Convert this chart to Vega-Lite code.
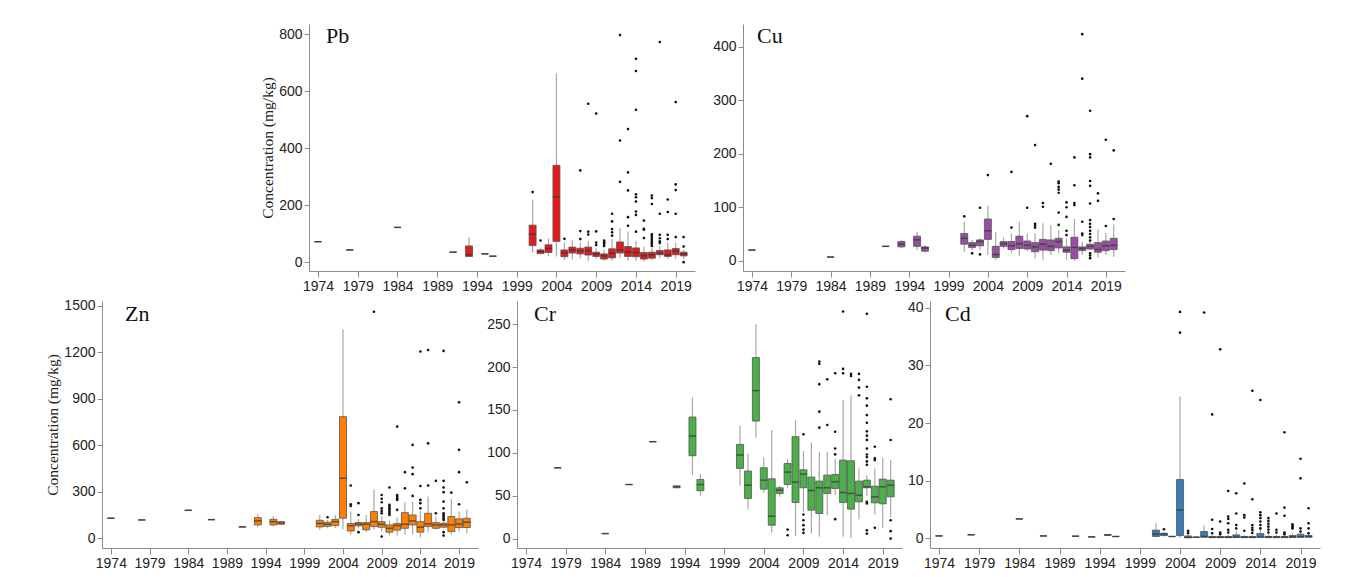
{
"$schema": "https://vega.github.io/schema/vega-lite/v6.json",
"padding": {"left": 45, "top": 24, "right": 5, "bottom": 5},
"background": "white",
"datasets": {
"pb": [
{"yr":1974,"lo":72,"q1":72,"md":72,"q3":72,"hi":72},
{"yr":1978,"lo":43,"q1":43,"md":43,"q3":43,"hi":43},
{"yr":1984,"lo":122,"q1":122,"md":122,"q3":122,"hi":122},
{"yr":1991,"lo":35,"q1":35,"md":35,"q3":35,"hi":35},
{"yr":1993,"lo":18,"q1":20,"md":26,"q3":57,"hi":88},
{"yr":1995,"lo":29,"q1":29,"md":29,"q3":29,"hi":29},
{"yr":1996,"lo":21,"q1":21,"md":21,"q3":21,"hi":21},
{"yr":2001,"lo":34,"q1":58,"md":98,"q3":130,"hi":219},
{"yr":2002,"lo":28,"q1":30,"md":37,"q3":43,"hi":50},
{"yr":2003,"lo":22,"q1":34,"md":48,"q3":61,"hi":84},
{"yr":2004,"lo":20,"q1":73,"md":229,"q3":340,"hi":662},
{"yr":2005,"lo":8,"q1":19,"md":32,"q3":43,"hi":69},
{"yr":2006,"lo":10,"q1":32,"md":43,"q3":53,"hi":78},
{"yr":2007,"lo":14,"q1":29,"md":40,"q3":49,"hi":67},
{"yr":2008,"lo":5,"q1":25,"md":41,"q3":53,"hi":73},
{"yr":2009,"lo":11,"q1":20,"md":29,"q3":35,"hi":49},
{"yr":2010,"lo":5,"q1":11,"md":22,"q3":29,"hi":43},
{"yr":2011,"lo":5,"q1":15,"md":32,"q3":47,"hi":81},
{"yr":2012,"lo":14,"q1":32,"md":43,"q3":71,"hi":121},
{"yr":2013,"lo":5,"q1":20,"md":35,"q3":55,"hi":108},
{"yr":2014,"lo":5,"q1":19,"md":34,"q3":50,"hi":75},
{"yr":2015,"lo":2,"q1":11,"md":23,"q3":34,"hi":55},
{"yr":2016,"lo":8,"q1":14,"md":26,"q3":35,"hi":49},
{"yr":2017,"lo":14,"q1":26,"md":32,"q3":41,"hi":57},
{"yr":2018,"lo":11,"q1":20,"md":26,"q3":43,"hi":67},
{"yr":2019,"lo":11,"q1":26,"md":39,"q3":48,"hi":67},
{"yr":2020,"lo":11,"q1":22,"md":29,"q3":35,"hi":43}
],
"pb_o": [
{"yr":2001,"v":246},{"yr":2002,"v":76},{"yr":2005,"v":82},
{"yr":2007,"v":322},{"yr":2007,"v":109},{"yr":2007,"v":81},
{"yr":2008,"v":556},{"yr":2008,"v":107},{"yr":2008,"v":97},
{"yr":2009,"v":522},{"yr":2009,"v":108},{"yr":2009,"v":69},{"yr":2009,"v":60},
{"yr":2010,"v":76},{"yr":2010,"v":70},{"yr":2010,"v":64},{"yr":2010,"v":57},
{"yr":2011,"v":170},{"yr":2011,"v":143},{"yr":2011,"v":116},{"yr":2011,"v":105},{"yr":2011,"v":93},
{"yr":2012,"v":797},{"yr":2012,"v":427},{"yr":2012,"v":282},
{"yr":2013,"v":467},{"yr":2013,"v":315},{"yr":2013,"v":252},{"yr":2013,"v":158},{"yr":2013,"v":128},
{"yr":2014,"v":714},{"yr":2014,"v":671},{"yr":2014,"v":535},{"yr":2014,"v":238},{"yr":2014,"v":228},{"yr":2014,"v":213},{"yr":2014,"v":178},{"yr":2014,"v":166},{"yr":2014,"v":107},
{"yr":2015,"v":146},{"yr":2015,"v":117},{"yr":2015,"v":114},{"yr":2015,"v":85},
{"yr":2016,"v":234},{"yr":2016,"v":225},{"yr":2016,"v":204},{"yr":2016,"v":98},{"yr":2016,"v":92},{"yr":2016,"v":85},{"yr":2016,"v":78},{"yr":2016,"v":71},{"yr":2016,"v":64},{"yr":2016,"v":57},
{"yr":2017,"v":773},{"yr":2017,"v":170},{"yr":2017,"v":96},{"yr":2017,"v":84},{"yr":2017,"v":73},{"yr":2017,"v":67},
{"yr":2018,"v":220},{"yr":2018,"v":176},{"yr":2018,"v":96},{"yr":2018,"v":81},
{"yr":2019,"v":562},{"yr":2019,"v":273},{"yr":2019,"v":253},{"yr":2019,"v":170},{"yr":2019,"v":88},
{"yr":2020,"v":88},{"yr":2020,"v":55},{"yr":2020,"v":0}
],
"cu": [
{"yr":1974,"lo":20,"q1":20,"md":20,"q3":20,"hi":20},
{"yr":1984,"lo":7,"q1":7,"md":7,"q3":7,"hi":7},
{"yr":1991,"lo":27,"q1":27,"md":27,"q3":27,"hi":27},
{"yr":1993,"lo":24,"q1":26,"md":31,"q3":36,"hi":39},
{"yr":1995,"lo":20,"q1":27,"md":39,"q3":46,"hi":54},
{"yr":1996,"lo":15,"q1":18,"md":24,"q3":26,"hi":29},
{"yr":2001,"lo":17,"q1":31,"md":42,"q3":51,"hi":73},
{"yr":2002,"lo":20,"q1":25,"md":29,"q3":34,"hi":39},
{"yr":2003,"lo":20,"q1":28,"md":36,"q3":39,"hi":42},
{"yr":2004,"lo":11,"q1":40,"md":56,"q3":78,"hi":103},
{"yr":2005,"lo":2,"q1":6,"md":12,"q3":27,"hi":54},
{"yr":2006,"lo":23,"q1":27,"md":32,"q3":36,"hi":44},
{"yr":2007,"lo":14,"q1":21,"md":28,"q3":36,"hi":51},
{"yr":2008,"lo":9,"q1":23,"md":32,"q3":46,"hi":73},
{"yr":2009,"lo":18,"q1":22,"md":29,"q3":37,"hi":51},
{"yr":2010,"lo":4,"q1":17,"md":26,"q3":34,"hi":51},
{"yr":2011,"lo":2,"q1":20,"md":31,"q3":40,"hi":70},
{"yr":2012,"lo":11,"q1":19,"md":27,"q3":39,"hi":67},
{"yr":2013,"lo":14,"q1":24,"md":36,"q3":42,"hi":57},
{"yr":2014,"lo":2,"q1":16,"md":20,"q3":26,"hi":42},
{"yr":2015,"lo":0,"q1":4,"md":25,"q3":44,"hi":78},
{"yr":2016,"lo":11,"q1":19,"md":23,"q3":26,"hi":36},
{"yr":2017,"lo":20,"q1":22,"md":27,"q3":31,"hi":42},
{"yr":2018,"lo":6,"q1":16,"md":21,"q3":34,"hi":59},
{"yr":2019,"lo":11,"q1":19,"md":28,"q3":37,"hi":52},
{"yr":2020,"lo":7,"q1":21,"md":29,"q3":42,"hi":68}
],
"cu_o": [
{"yr":2001,"v":83},{"yr":2002,"v":14},{"yr":2003,"v":99},{"yr":2003,"v":12},{"yr":2004,"v":160},
{"yr":2007,"v":166},{"yr":2007,"v":62},
{"yr":2009,"v":270},{"yr":2009,"v":99},
{"yr":2010,"v":216},{"yr":2010,"v":69},{"yr":2010,"v":66},{"yr":2010,"v":62},
{"yr":2011,"v":108},{"yr":2011,"v":101},
{"yr":2012,"v":181},
{"yr":2013,"v":148},{"yr":2013,"v":145},{"yr":2013,"v":138},{"yr":2013,"v":133},{"yr":2013,"v":127},{"yr":2013,"v":90},{"yr":2013,"v":67},
{"yr":2014,"v":109},{"yr":2014,"v":100},{"yr":2014,"v":82},{"yr":2014,"v":56},{"yr":2014,"v":48},
{"yr":2015,"v":193},{"yr":2015,"v":141},{"yr":2015,"v":108},{"yr":2015,"v":104},
{"yr":2016,"v":423},{"yr":2016,"v":340},{"yr":2016,"v":73},{"yr":2016,"v":51},{"yr":2016,"v":48},
{"yr":2017,"v":280},{"yr":2017,"v":199},{"yr":2017,"v":193},{"yr":2017,"v":149},{"yr":2017,"v":140},{"yr":2017,"v":107},{"yr":2017,"v":76},{"yr":2017,"v":69},{"yr":2017,"v":63},{"yr":2017,"v":56},{"yr":2017,"v":50},{"yr":2017,"v":44},{"yr":2017,"v":38},{"yr":2017,"v":14},{"yr":2017,"v":10},{"yr":2017,"v":5},
{"yr":2018,"v":126},{"yr":2018,"v":112},
{"yr":2019,"v":226},{"yr":2019,"v":65},
{"yr":2020,"v":206},{"yr":2020,"v":78}
],
"zn": [
{"yr":1974,"lo":129,"q1":129,"md":129,"q3":129,"hi":129},
{"yr":1978,"lo":118,"q1":118,"md":118,"q3":118,"hi":118},
{"yr":1984,"lo":180,"q1":180,"md":180,"q3":180,"hi":180},
{"yr":1987,"lo":120,"q1":120,"md":120,"q3":120,"hi":120},
{"yr":1991,"lo":73,"q1":73,"md":73,"q3":73,"hi":73},
{"yr":1993,"lo":71,"q1":86,"md":112,"q3":133,"hi":157},
{"yr":1995,"lo":75,"q1":86,"md":107,"q3":122,"hi":140},
{"yr":1996,"lo":88,"q1":90,"md":99,"q3":107,"hi":110},
{"yr":2001,"lo":54,"q1":73,"md":95,"q3":116,"hi":150},
{"yr":2002,"lo":64,"q1":77,"md":90,"q3":103,"hi":118},
{"yr":2003,"lo":64,"q1":82,"md":107,"q3":122,"hi":150},
{"yr":2004,"lo":58,"q1":129,"md":387,"q3":784,"hi":1348},
{"yr":2005,"lo":26,"q1":47,"md":80,"q3":95,"hi":172},
{"yr":2006,"lo":64,"q1":80,"md":92,"q3":101,"hi":125},
{"yr":2007,"lo":39,"q1":54,"md":90,"q3":101,"hi":150},
{"yr":2008,"lo":54,"q1":75,"md":107,"q3":172,"hi":316},
{"yr":2009,"lo":43,"q1":71,"md":90,"q3":107,"hi":140},
{"yr":2010,"lo":17,"q1":39,"md":64,"q3":86,"hi":112},
{"yr":2011,"lo":17,"q1":52,"md":82,"q3":95,"hi":133},
{"yr":2012,"lo":21,"q1":64,"md":90,"q3":165,"hi":232},
{"yr":2013,"lo":26,"q1":86,"md":112,"q3":150,"hi":236},
{"yr":2014,"lo":4,"q1":39,"md":71,"q3":107,"hi":176},
{"yr":2015,"lo":39,"q1":75,"md":92,"q3":161,"hi":269},
{"yr":2016,"lo":54,"q1":64,"md":86,"q3":101,"hi":140},
{"yr":2017,"lo":64,"q1":71,"md":86,"q3":97,"hi":107},
{"yr":2018,"lo":26,"q1":43,"md":86,"q3":140,"hi":254},
{"yr":2019,"lo":43,"q1":69,"md":92,"q3":125,"hi":172},
{"yr":2020,"lo":32,"q1":69,"md":103,"q3":129,"hi":187}
],
"zn_o": [
{"yr":2002,"v":135},
{"yr":2005,"v":340},{"yr":2005,"v":219},{"yr":2005,"v":208},
{"yr":2006,"v":226},{"yr":2006,"v":150},{"yr":2006,"v":39},
{"yr":2008,"v":1461},
{"yr":2009,"v":279},{"yr":2009,"v":254},{"yr":2009,"v":232},{"yr":2009,"v":193},{"yr":2009,"v":176},{"yr":2009,"v":161},{"yr":2009,"v":11},
{"yr":2010,"v":327},{"yr":2010,"v":215},{"yr":2010,"v":204},{"yr":2010,"v":193},{"yr":2010,"v":183},{"yr":2010,"v":172},{"yr":2010,"v":161},{"yr":2010,"v":150},
{"yr":2011,"v":720},{"yr":2011,"v":279},{"yr":2011,"v":268},{"yr":2011,"v":257},{"yr":2011,"v":247},{"yr":2011,"v":183},
{"yr":2012,"v":426},{"yr":2012,"v":322},
{"yr":2013,"v":602},{"yr":2013,"v":456},{"yr":2013,"v":413},{"yr":2013,"v":273},
{"yr":2014,"v":1204},{"yr":2014,"v":337},{"yr":2014,"v":247},{"yr":2014,"v":226},{"yr":2014,"v":193},
{"yr":2015,"v":1214},{"yr":2015,"v":612},{"yr":2015,"v":340},
{"yr":2016,"v":370},{"yr":2016,"v":161},
{"yr":2017,"v":1208},{"yr":2017,"v":370},{"yr":2017,"v":327},{"yr":2017,"v":297},{"yr":2017,"v":236},{"yr":2017,"v":193},{"yr":2017,"v":161},{"yr":2017,"v":150},{"yr":2017,"v":140},{"yr":2017,"v":129},{"yr":2017,"v":118},{"yr":2017,"v":39},{"yr":2017,"v":17},
{"yr":2018,"v":294},
{"yr":2019,"v":877},{"yr":2019,"v":570},{"yr":2019,"v":426},{"yr":2019,"v":219},
{"yr":2020,"v":361}
],
"cr": [
{"yr":1978,"lo":82.5,"q1":82.5,"md":82.5,"q3":82.5,"hi":82.5},
{"yr":1984,"lo":5.8,"q1":5.8,"md":5.8,"q3":5.8,"hi":5.8},
{"yr":1987,"lo":63,"q1":63,"md":63,"q3":63,"hi":63},
{"yr":1990,"lo":113,"q1":113,"md":113,"q3":113,"hi":113},
{"yr":1993,"lo":59,"q1":59.2,"md":60.4,"q3":61.5,"hi":62},
{"yr":1995,"lo":74,"q1":96.6,"md":119.5,"q3":141.7,"hi":164.7},
{"yr":1996,"lo":50.6,"q1":55.7,"md":63,"q3":68.9,"hi":74.8},
{"yr":2001,"lo":61.5,"q1":81.8,"md":97.4,"q3":109.8,"hi":131.6},
{"yr":2002,"lo":34.3,"q1":46.7,"md":62.3,"q3":78.7,"hi":98.9},
{"yr":2003,"lo":117.6,"q1":137,"md":172.5,"q3":211,"hi":250},
{"yr":2004,"lo":53.3,"q1":57.6,"md":68.1,"q3":82.6,"hi":94.6},
{"yr":2005,"lo":7,"q1":15.6,"md":26.1,"q3":69.7,"hi":126.6},
{"yr":2006,"lo":48.7,"q1":52.6,"md":56.5,"q3":59.2,"hi":61.5},
{"yr":2007,"lo":59.2,"q1":63.1,"md":77.5,"q3":87.6,"hi":92.7},
{"yr":2008,"lo":3.1,"q1":42,"md":65.8,"q3":118.8,"hi":137.9},
{"yr":2009,"lo":31.2,"q1":59.2,"md":75.2,"q3":80.2,"hi":102},
{"yr":2010,"lo":5.8,"q1":33.1,"md":56.1,"q3":71.7,"hi":112},
{"yr":2011,"lo":2,"q1":29.2,"md":59.2,"q3":67,"hi":101},
{"yr":2012,"lo":27.3,"q1":52.6,"md":59.2,"q3":74,"hi":101},
{"yr":2013,"lo":50.6,"q1":58.4,"md":66.2,"q3":74.8,"hi":93.5},
{"yr":2014,"lo":2,"q1":42,"md":53.7,"q3":91.5,"hi":161.6},
{"yr":2015,"lo":0.8,"q1":34.3,"md":52.6,"q3":90.7,"hi":166.7},
{"yr":2016,"lo":22.6,"q1":42.8,"md":50.6,"q3":67,"hi":81.8},
{"yr":2017,"lo":49.5,"q1":59.2,"md":60.4,"q3":68.1,"hi":74},
{"yr":2018,"lo":28.4,"q1":41.7,"md":48.7,"q3":61.1,"hi":81.8},
{"yr":2019,"lo":12.5,"q1":40.5,"md":60.4,"q3":69.3,"hi":94.2},
{"yr":2020,"lo":25.3,"q1":48.7,"md":62.3,"q3":68.1,"hi":91.5}
],
"cr_o": [
{"yr":2007,"v":10.5},{"yr":2007,"v":3.9},
{"yr":2009,"v":121.5},{"yr":2009,"v":28},{"yr":2009,"v":21.4},{"yr":2009,"v":15.6},{"yr":2009,"v":10.5},{"yr":2009,"v":6.6},
{"yr":2011,"v":206.4},{"yr":2011,"v":203.7},{"yr":2011,"v":180},{"yr":2011,"v":148},{"yr":2011,"v":129.3},
{"yr":2012,"v":185.7},{"yr":2012,"v":132.4},
{"yr":2013,"v":192.8},{"yr":2013,"v":124.6},{"yr":2013,"v":105},{"yr":2013,"v":98.1},{"yr":2013,"v":22.6},
{"yr":2014,"v":264.8},{"yr":2014,"v":197.8},{"yr":2014,"v":192.8},
{"yr":2015,"v":192},{"yr":2015,"v":189.6},
{"yr":2016,"v":192},{"yr":2016,"v":185},{"yr":2016,"v":176},{"yr":2016,"v":167},
{"yr":2017,"v":262},{"yr":2017,"v":177},{"yr":2017,"v":163.5},{"yr":2017,"v":155},{"yr":2017,"v":144},{"yr":2017,"v":135},{"yr":2017,"v":125},{"yr":2017,"v":120},{"yr":2017,"v":115},{"yr":2017,"v":105},{"yr":2017,"v":98},{"yr":2017,"v":95},{"yr":2017,"v":90},{"yr":2017,"v":86},{"yr":2017,"v":42.8},{"yr":2017,"v":41},{"yr":2017,"v":9.7},{"yr":2017,"v":5.8},
{"yr":2018,"v":107},{"yr":2018,"v":93.5},{"yr":2018,"v":91.5},{"yr":2018,"v":12.5},
{"yr":2020,"v":162.4},{"yr":2020,"v":114.9},{"yr":2020,"v":21.4},{"yr":2020,"v":8.6},{"yr":2020,"v":0}
],
"cd": [
{"yr":1974,"lo":0.4,"q1":0.4,"md":0.4,"q3":0.4,"hi":0.4},
{"yr":1978,"lo":0.6,"q1":0.6,"md":0.6,"q3":0.6,"hi":0.6},
{"yr":1984,"lo":3.35,"q1":3.35,"md":3.35,"q3":3.35,"hi":3.35},
{"yr":1987,"lo":0.4,"q1":0.4,"md":0.4,"q3":0.4,"hi":0.4},
{"yr":1991,"lo":0.35,"q1":0.35,"md":0.35,"q3":0.35,"hi":0.35},
{"yr":1993,"lo":0.23,"q1":0.23,"md":0.23,"q3":0.23,"hi":0.23},
{"yr":1995,"lo":0.45,"q1":0.5,"md":0.58,"q3":0.62,"hi":0.65},
{"yr":1996,"lo":0.3,"q1":0.3,"md":0.3,"q3":0.3,"hi":0.3},
{"yr":2001,"lo":0.3,"q1":0.3,"md":0.7,"q3":1.4,"hi":2.6},
{"yr":2002,"lo":0.3,"q1":0.46,"md":0.7,"q3":0.87,"hi":1.0},
{"yr":2003,"lo":0.3,"q1":0.3,"md":0.3,"q3":0.3,"hi":0.3},
{"yr":2004,"lo":0.1,"q1":0.46,"md":4.9,"q3":10.2,"hi":24.6},
{"yr":2005,"lo":0.06,"q1":0.06,"md":0.17,"q3":0.4,"hi":0.6},
{"yr":2006,"lo":0.17,"q1":0.17,"md":0.17,"q3":0.17,"hi":0.17},
{"yr":2007,"lo":0.17,"q1":0.17,"md":0.3,"q3":1.16,"hi":2.2},
{"yr":2008,"lo":0.1,"q1":0.1,"md":0.17,"q3":0.3,"hi":0.5},
{"yr":2009,"lo":0.1,"q1":0.1,"md":0.17,"q3":0.3,"hi":0.5},
{"yr":2010,"lo":0.1,"q1":0.1,"md":0.17,"q3":0.3,"hi":0.6},
{"yr":2011,"lo":0.12,"q1":0.12,"md":0.2,"q3":0.58,"hi":1.2},
{"yr":2012,"lo":0.1,"q1":0.1,"md":0.17,"q3":0.3,"hi":0.5},
{"yr":2013,"lo":0.1,"q1":0.1,"md":0.17,"q3":0.3,"hi":0.5},
{"yr":2014,"lo":0.17,"q1":0.17,"md":0.2,"q3":0.81,"hi":1.6},
{"yr":2015,"lo":0.1,"q1":0.1,"md":0.2,"q3":0.3,"hi":0.6},
{"yr":2016,"lo":0.1,"q1":0.1,"md":0.2,"q3":0.3,"hi":0.6},
{"yr":2017,"lo":0.1,"q1":0.1,"md":0.2,"q3":0.3,"hi":0.6},
{"yr":2018,"lo":0.12,"q1":0.12,"md":0.25,"q3":0.46,"hi":0.9},
{"yr":2019,"lo":0.17,"q1":0.17,"md":0.25,"q3":0.7,"hi":1.2},
{"yr":2020,"lo":0.17,"q1":0.17,"md":0.3,"q3":0.46,"hi":0.8}
],
"cd_o": [
{"yr":2002,"v":1.56},
{"yr":2004,"v":39.3},{"yr":2004,"v":35.7},
{"yr":2005,"v":1.27},{"yr":2005,"v":0.87},
{"yr":2007,"v":39.2},
{"yr":2008,"v":21.5},{"yr":2008,"v":3.2},{"yr":2008,"v":1.6},{"yr":2008,"v":0.87},
{"yr":2009,"v":32.8},{"yr":2009,"v":2.9},{"yr":2009,"v":1.0},{"yr":2009,"v":0.7},
{"yr":2010,"v":8.2},{"yr":2010,"v":3.76},{"yr":2010,"v":3.35},{"yr":2010,"v":2.6},{"yr":2010,"v":1.45},{"yr":2010,"v":1.0},
{"yr":2011,"v":7.8},{"yr":2011,"v":4.3},{"yr":2011,"v":2.3},{"yr":2011,"v":1.7},
{"yr":2012,"v":9.5},{"yr":2012,"v":4.0},{"yr":2012,"v":3.6},{"yr":2012,"v":1.3},
{"yr":2013,"v":25.6},{"yr":2013,"v":6.76},{"yr":2013,"v":2.3},{"yr":2013,"v":1.8},{"yr":2013,"v":1.4},{"yr":2013,"v":0.9},
{"yr":2014,"v":24},{"yr":2014,"v":4.5},{"yr":2014,"v":4.0},{"yr":2014,"v":3.5},{"yr":2014,"v":2.9},{"yr":2014,"v":2.3},{"yr":2014,"v":1.7},
{"yr":2015,"v":3.5},{"yr":2015,"v":3.0},{"yr":2015,"v":2.5},{"yr":2015,"v":2.0},{"yr":2015,"v":1.5},{"yr":2015,"v":1.0},
{"yr":2016,"v":4.3},{"yr":2016,"v":1.45},{"yr":2016,"v":1.0},
{"yr":2017,"v":18.4},{"yr":2017,"v":5.3},{"yr":2017,"v":3.9},{"yr":2017,"v":1.0},{"yr":2017,"v":0.7},
{"yr":2018,"v":2.4},{"yr":2018,"v":2.1},{"yr":2018,"v":1.9},{"yr":2018,"v":1.7},
{"yr":2019,"v":13.8},{"yr":2019,"v":10.4},{"yr":2019,"v":1.7},{"yr":2019,"v":1.16},
{"yr":2020,"v":5.2},{"yr":2020,"v":2.6},{"yr":2020,"v":1.7},{"yr":2020,"v":0.87}
]
},
"spacing": 5,
"vconcat": [
{
"bounds": "flush",
"spacing": 0,
"hconcat": [
{"width": 207, "height": 247, "data": {"values": [{"a": 1}]}, "mark": {"type": "point", "opacity": 0}, "encoding": {}},
{
"width": 386, "height": 247,
"encoding": {"x": {"field": "yr", "type": "quantitative", "scale": {"domain": [1973.5, 2020.8], "nice": false, "zero": false}, "axis": {"values": [1974,1979,1984,1989,1994,1999,2004,2009,2014,2019], "format": "d", "title": null}}},
"layer": [
{"data": {"name": "pb"}, "mark": {"type": "rule", "color": "#a8a8a8", "strokeWidth": 1.2}, "encoding": {"y": {"field": "lo", "type": "quantitative", "scale": {"domain": [-31, 836], "nice": false, "zero": false}, "axis": {"values": [0,200,400,600,800], "format": "d", "title": "Concentration (mg/kg)"}}, "y2": {"field": "hi"}}},
{"data": {"name": "pb"}, "mark": {"type": "bar", "orient": "vertical", "width": 7, "fill": "#E41A1C", "stroke": "#555555", "strokeWidth": 0.8}, "encoding": {"y": {"field": "q1", "type": "quantitative", "scale": {"domain": [-31, 836], "nice": false, "zero": false}, "axis": {"values": [0,200,400,600,800], "format": "d", "title": "Concentration (mg/kg)"}}, "y2": {"field": "q3"}}},
{"data": {"name": "pb"}, "mark": {"type": "tick", "orient": "horizontal", "size": 7, "thickness": 1.5, "color": "#333333"}, "encoding": {"y": {"field": "md", "type": "quantitative", "scale": {"domain": [-31, 836], "nice": false, "zero": false}, "axis": {"values": [0,200,400,600,800], "format": "d", "title": "Concentration (mg/kg)"}}}},
{"data": {"name": "pb_o"}, "mark": {"type": "point", "filled": true, "size": 7, "color": "#111111", "opacity": 1}, "encoding": {"y": {"field": "v", "type": "quantitative", "scale": {"domain": [-31, 836], "nice": false, "zero": false}, "axis": {"values": [0,200,400,600,800], "format": "d", "title": "Concentration (mg/kg)"}}}},
{"data": {"values": [{"t": "Pb", "yr": 1973.5, "v": 836}]}, "mark": {"type": "text", "align": "left", "baseline": "top", "dx": 12, "dy": 2, "font": "Liberation Serif", "fontSize": 22, "fill": "#111111"}, "encoding": {"text": {"field": "t", "type": "nominal"}, "y": {"field": "v", "type": "quantitative", "scale": {"domain": [-31, 836], "nice": false, "zero": false}, "axis": {"values": [0,200,400,600,800], "format": "d", "title": "Concentration (mg/kg)"}}}}
]
},
{"width": 48, "height": 247, "data": {"values": [{"a": 1}]}, "mark": {"type": "point", "opacity": 0}, "encoding": {}},
{
"width": 382, "height": 247,
"encoding": {"x": {"field": "yr", "type": "quantitative", "scale": {"domain": [1973.5, 2020.8], "nice": false, "zero": false}, "axis": {"values": [1974,1979,1984,1989,1994,1999,2004,2009,2014,2019], "format": "d", "title": null}}},
"layer": [
{"data": {"name": "cu"}, "mark": {"type": "rule", "color": "#a8a8a8", "strokeWidth": 1.2}, "encoding": {"y": {"field": "lo", "type": "quantitative", "scale": {"domain": [-19, 442], "nice": false, "zero": false}, "axis": {"values": [0,100,200,300,400], "format": "d", "title": null}}, "y2": {"field": "hi"}}},
{"data": {"name": "cu"}, "mark": {"type": "bar", "orient": "vertical", "width": 7, "fill": "#984EA3", "stroke": "#555555", "strokeWidth": 0.8}, "encoding": {"y": {"field": "q1", "type": "quantitative", "scale": {"domain": [-19, 442], "nice": false, "zero": false}, "axis": {"values": [0,100,200,300,400], "format": "d", "title": null}}, "y2": {"field": "q3"}}},
{"data": {"name": "cu"}, "mark": {"type": "tick", "orient": "horizontal", "size": 7, "thickness": 1.5, "color": "#333333"}, "encoding": {"y": {"field": "md", "type": "quantitative", "scale": {"domain": [-19, 442], "nice": false, "zero": false}, "axis": {"values": [0,100,200,300,400], "format": "d", "title": null}}}},
{"data": {"name": "cu_o"}, "mark": {"type": "point", "filled": true, "size": 7, "color": "#111111", "opacity": 1}, "encoding": {"y": {"field": "v", "type": "quantitative", "scale": {"domain": [-19, 442], "nice": false, "zero": false}, "axis": {"values": [0,100,200,300,400], "format": "d", "title": null}}}},
{"data": {"values": [{"t": "Cu", "yr": 1973.5, "v": 442}]}, "mark": {"type": "text", "align": "left", "baseline": "top", "dx": 9, "dy": 2, "font": "Liberation Serif", "fontSize": 22, "fill": "#111111"}, "encoding": {"text": {"field": "t", "type": "nominal"}, "y": {"field": "v", "type": "quantitative", "scale": {"domain": [-19, 442], "nice": false, "zero": false}, "axis": {"values": [0,100,200,300,400], "format": "d", "title": null}}}}
]
}
]
},
{
"bounds": "flush",
"spacing": 0,
"hconcat": [
{
"width": 376, "height": 247,
"encoding": {"x": {"field": "yr", "type": "quantitative", "scale": {"domain": [1973.5, 2020.8], "nice": false, "zero": false}, "axis": {"values": [1974,1979,1984,1989,1994,1999,2004,2009,2014,2019], "format": "d", "title": null}}},
"layer": [
{"data": {"name": "zn"}, "mark": {"type": "rule", "color": "#a8a8a8", "strokeWidth": 1.2}, "encoding": {"y": {"field": "lo", "type": "quantitative", "scale": {"domain": [-63, 1530], "nice": false, "zero": false}, "axis": {"values": [0,300,600,900,1200,1500], "format": "d", "title": "Concentration (mg/kg)"}}, "y2": {"field": "hi"}}},
{"data": {"name": "zn"}, "mark": {"type": "bar", "orient": "vertical", "width": 7, "fill": "#FF7F00", "stroke": "#555555", "strokeWidth": 0.8}, "encoding": {"y": {"field": "q1", "type": "quantitative", "scale": {"domain": [-63, 1530], "nice": false, "zero": false}, "axis": {"values": [0,300,600,900,1200,1500], "format": "d", "title": "Concentration (mg/kg)"}}, "y2": {"field": "q3"}}},
{"data": {"name": "zn"}, "mark": {"type": "tick", "orient": "horizontal", "size": 7, "thickness": 1.5, "color": "#333333"}, "encoding": {"y": {"field": "md", "type": "quantitative", "scale": {"domain": [-63, 1530], "nice": false, "zero": false}, "axis": {"values": [0,300,600,900,1200,1500], "format": "d", "title": "Concentration (mg/kg)"}}}},
{"data": {"name": "zn_o"}, "mark": {"type": "point", "filled": true, "size": 7, "color": "#111111", "opacity": 1}, "encoding": {"y": {"field": "v", "type": "quantitative", "scale": {"domain": [-63, 1530], "nice": false, "zero": false}, "axis": {"values": [0,300,600,900,1200,1500], "format": "d", "title": "Concentration (mg/kg)"}}}},
{"data": {"values": [{"t": "Zn", "yr": 1973.5, "v": 1530}]}, "mark": {"type": "text", "align": "left", "baseline": "top", "dx": 18, "dy": 3, "font": "Liberation Serif", "fontSize": 22, "fill": "#111111"}, "encoding": {"text": {"field": "t", "type": "nominal"}, "y": {"field": "v", "type": "quantitative", "scale": {"domain": [-63, 1530], "nice": false, "zero": false}, "axis": {"values": [0,300,600,900,1200,1500], "format": "d", "title": "Concentration (mg/kg)"}}}}
]
},
{"width": 39, "height": 247, "data": {"values": [{"a": 1}]}, "mark": {"type": "point", "opacity": 0}, "encoding": {}},
{
"width": 385, "height": 247,
"encoding": {"x": {"field": "yr", "type": "quantitative", "scale": {"domain": [1973.5, 2020.8], "nice": false, "zero": false}, "axis": {"values": [1974,1979,1984,1989,1994,1999,2004,2009,2014,2019], "format": "d", "title": null}}},
"layer": [
{"data": {"name": "cr"}, "mark": {"type": "rule", "color": "#a8a8a8", "strokeWidth": 1.2}, "encoding": {"y": {"field": "lo", "type": "quantitative", "scale": {"domain": [-11, 277], "nice": false, "zero": false}, "axis": {"values": [0,50,100,150,200,250], "format": "d", "title": null}}, "y2": {"field": "hi"}}},
{"data": {"name": "cr"}, "mark": {"type": "bar", "orient": "vertical", "width": 7, "fill": "#4DAF4A", "stroke": "#555555", "strokeWidth": 0.8}, "encoding": {"y": {"field": "q1", "type": "quantitative", "scale": {"domain": [-11, 277], "nice": false, "zero": false}, "axis": {"values": [0,50,100,150,200,250], "format": "d", "title": null}}, "y2": {"field": "q3"}}},
{"data": {"name": "cr"}, "mark": {"type": "tick", "orient": "horizontal", "size": 7, "thickness": 1.5, "color": "#333333"}, "encoding": {"y": {"field": "md", "type": "quantitative", "scale": {"domain": [-11, 277], "nice": false, "zero": false}, "axis": {"values": [0,50,100,150,200,250], "format": "d", "title": null}}}},
{"data": {"name": "cr_o"}, "mark": {"type": "point", "filled": true, "size": 7, "color": "#111111", "opacity": 1}, "encoding": {"y": {"field": "v", "type": "quantitative", "scale": {"domain": [-11, 277], "nice": false, "zero": false}, "axis": {"values": [0,50,100,150,200,250], "format": "d", "title": null}}}},
{"data": {"values": [{"t": "Cr", "yr": 1973.5, "v": 277}]}, "mark": {"type": "text", "align": "left", "baseline": "top", "dx": 12, "dy": 3, "font": "Liberation Serif", "fontSize": 22, "fill": "#111111"}, "encoding": {"text": {"field": "t", "type": "nominal"}, "y": {"field": "v", "type": "quantitative", "scale": {"domain": [-11, 277], "nice": false, "zero": false}, "axis": {"values": [0,50,100,150,200,250], "format": "d", "title": null}}}}
]
},
{"width": 28, "height": 247, "data": {"values": [{"a": 1}]}, "mark": {"type": "point", "opacity": 0}, "encoding": {}},
{
"width": 390, "height": 247,
"encoding": {"x": {"field": "yr", "type": "quantitative", "scale": {"domain": [1973.5, 2020.8], "nice": false, "zero": false}, "axis": {"values": [1974,1979,1984,1989,1994,1999,2004,2009,2014,2019], "format": "d", "title": null}}},
"layer": [
{"data": {"name": "cd"}, "mark": {"type": "rule", "color": "#a8a8a8", "strokeWidth": 1.2}, "encoding": {"y": {"field": "lo", "type": "quantitative", "scale": {"domain": [-1.7, 41.2], "nice": false, "zero": false}, "axis": {"values": [0,10,20,30,40], "format": "d", "title": null}}, "y2": {"field": "hi"}}},
{"data": {"name": "cd"}, "mark": {"type": "bar", "orient": "vertical", "width": 7, "fill": "#377EB8", "stroke": "#555555", "strokeWidth": 0.8}, "encoding": {"y": {"field": "q1", "type": "quantitative", "scale": {"domain": [-1.7, 41.2], "nice": false, "zero": false}, "axis": {"values": [0,10,20,30,40], "format": "d", "title": null}}, "y2": {"field": "q3"}}},
{"data": {"name": "cd"}, "mark": {"type": "tick", "orient": "horizontal", "size": 7, "thickness": 1.5, "color": "#333333"}, "encoding": {"y": {"field": "md", "type": "quantitative", "scale": {"domain": [-1.7, 41.2], "nice": false, "zero": false}, "axis": {"values": [0,10,20,30,40], "format": "d", "title": null}}}},
{"data": {"name": "cd_o"}, "mark": {"type": "point", "filled": true, "size": 7, "color": "#111111", "opacity": 1}, "encoding": {"y": {"field": "v", "type": "quantitative", "scale": {"domain": [-1.7, 41.2], "nice": false, "zero": false}, "axis": {"values": [0,10,20,30,40], "format": "d", "title": null}}}},
{"data": {"values": [{"t": "Cd", "yr": 1973.5, "v": 41.2}]}, "mark": {"type": "text", "align": "left", "baseline": "top", "dx": 10, "dy": 3, "font": "Liberation Serif", "fontSize": 22, "fill": "#111111"}, "encoding": {"text": {"field": "t", "type": "nominal"}, "y": {"field": "v", "type": "quantitative", "scale": {"domain": [-1.7, 41.2], "nice": false, "zero": false}, "axis": {"values": [0,10,20,30,40], "format": "d", "title": null}}}}
]
}
]
}
],
"config": {
"view": {"stroke": null},
"axis": {"grid": false, "domainColor": "#8c8c8c", "tickColor": "#8c8c8c", "labelColor": "#222222", "labelFont": "Liberation Sans", "labelFontSize": 14, "titleFont": "Liberation Serif", "titleFontSize": 15.5, "titleFontWeight": "normal", "titleColor": "#222222", "labelPadding": 2, "titlePadding": 3},
"axisX": {"tickSize": 6, "labelFlush": false, "labelOverlap": false},
"axisY": {"tickSize": 5}
}
}
